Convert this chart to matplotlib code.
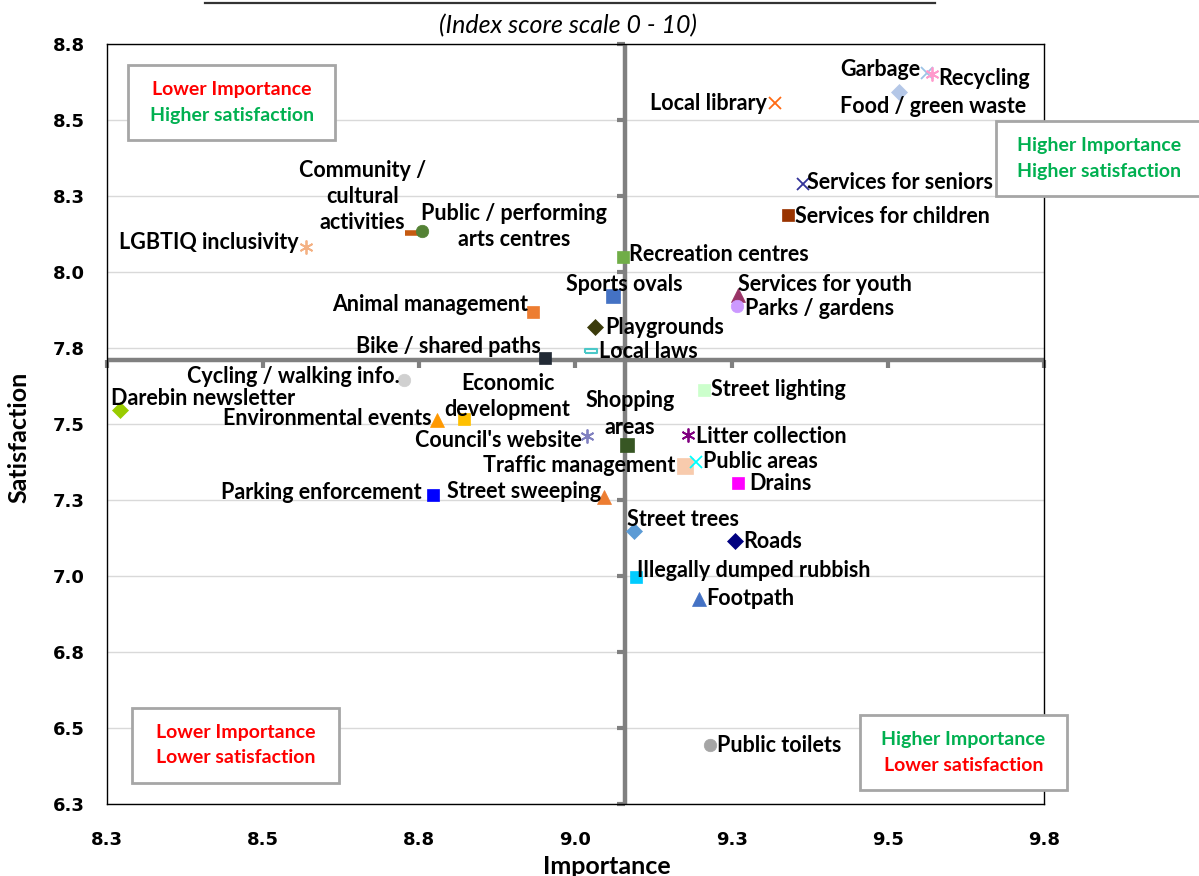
import matplotlib
matplotlib.use("Agg")
import matplotlib.pyplot as plt
import matplotlib.markers as mk
from matplotlib.path import Path
from matplotlib.patches import Rectangle
from matplotlib.lines import Line2D

plt.rcParams['font.family'] = ['Lato', 'DejaVu Sans']

# --- data ---
services = ["LGBTIQ inclusivity", "Community /\ncultural\nactivities", "Public / performing\narts centres",
            "Recreation centres", "Sports ovals", "Animal management", "Playgrounds", "Local laws",
            "Bike / shared paths", "Local library", "Garbage", "Recycling", "Food / green waste",
            "Services for seniors", "Services for children", "Services for youth", "Parks / gardens",
            "Cycling / walking info.", "Darebin newsletter", "Environmental events",
            "Economic\ndevelopment", "Council's website", "Shopping\nareas", "Parking enforcement",
            "Street sweeping", "Street lighting", "Litter collection", "Traffic management",
            "Public areas", "Drains", "Street trees", "Roads", "Illegally dumped rubbish",
            "Footpath", "Public toilets"]
importance = [8.568, 8.738, 8.755, 9.076, 9.060, 8.932, 9.032, 9.025, 8.952, 9.319, 9.562, 9.570,
              9.518, 9.365, 9.340, 9.260, 9.259, 8.726, 8.271, 8.778, 8.821, 9.018, 9.082, 8.772,
              9.045, 9.206, 9.180, 9.176, 9.193, 9.260, 9.094, 9.255, 9.097, 9.197, 9.215]
satisfaction = [8.084, 8.128, 8.137, 8.051, 7.922, 7.870, 7.819, 7.742, 7.717, 8.556, 8.655, 8.651,
                8.594, 8.290, 8.188, 7.925, 7.889, 7.646, 7.547, 7.514, 7.516, 7.461, 7.432, 7.267,
                7.262, 7.613, 7.465, 7.363, 7.377, 7.308, 7.149, 7.117, 6.997, 6.927, 6.445]
avg_importance = 9.08
avg_satisfaction = 7.71

xticks = [8.25, 8.5, 8.75, 9.0, 9.25, 9.5, 9.75]
xtick_labels = ["8.3", "8.5", "8.8", "9.0", "9.3", "9.5", "9.8"]
yticks = [6.25, 6.5, 6.75, 7.0, 7.25, 7.5, 7.75, 8.0, 8.25, 8.5, 8.75]
ytick_labels = ["6.3", "6.5", "6.8", "7.0", "7.3", "7.5", "7.8", "8.0", "8.3", "8.5", "8.8"]

# --- styles ---
bar = Path([(-1, -0.35), (1, -0.35), (1, 0.35), (-1, 0.35), (-1, -0.35)])
star = (6, 2, 0)
markers = [star, "_", "o", "s", "s", "s", "D", bar, "s", "x", "x", star, "D",
           "x", "s", "^", "o", "o", "D", "^", "s", star, "s", "s",
           "^", "s", star, "s", "x", "s", "D", "D", "s", "^", "o"]
colors = ["#F4B183", "#C55A11", "#548235", "#70AD47", "#4472C4", "#ED7D31", "#3B3B0B", "#4BC8C8",
          "#222A35", "#FF6A13", "#9DC3E6", "#FF99CC", "#B4C7E7", "#333399", "#993300", "#993366",
          "#CC99FF", "#D0D0D0", "#99CC00", "#FF9900", "#FFC000", "#8080C0", "#375623", "#0000FF",
          "#ED7D31", "#CCFFCC", "#800080", "#F8CBAD", "#00FFFF", "#FF00FF", "#5B9BD5", "#000080",
          "#00CCFF", "#4472C4", "#A5A5A5"]
sizes = [10, 10, 9, 8, 9.5, 8, 8, 9, 8, 9, 9, 10, 8.5, 9, 8.5, 9.5, 9, 9, 8, 9.5, 9, 10, 9.5, 8,
         9.5, 9, 10, 12, 9, 9, 8, 8, 9, 9.5, 9]
# label offsets in pixels (dx, dy up) and alignment
label_pos = [(-7, 4, "right"), (-49, 37, "center"), (92, 4, "center"), (6, 2, "left"),
             (11, 12, "center"), (-5, 7, "right"), (10, 0, "left"), (8, -1, "left"),
             (-5, 12, "right"), (-8, 0, "right"), (-6, 4, "right"), (7, -4, "left"),
             (34, -15, "center"), (4, 2, "left"), (7, -1, "left"), (0, 11, "left"),
             (8, -2, "left"), (-5, 3, "right"), (-9, 12, "left"), (-5, 2, "right"),
             (44, 23, "center"), (-5, -4, "right"), (3, 31, "center"), (-11, 3, "right"),
             (-2, 5, "right"), (7, 0, "left"), (8, -2, "left"), (-10, 0, "right"),
             (7, 0, "left"), (11, -1, "left"), (-7, 12, "left"), (8, -1, "left"),
             (1, 7, "left"), (8, 0, "left"), (7, 0, "left")]

fig = plt.figure(figsize=(11.99, 8.76), dpi=100)
ax = fig.add_axes([0.0892, 0.0818, 0.7815, 0.8676])
ax.set_xlim(8.25, 9.75)
ax.set_ylim(6.25, 8.75)

ax.set_yticks(yticks)
ax.set_yticklabels(ytick_labels)
ax.set_xticks(xticks)
ax.set_xticklabels(xtick_labels)
ax.tick_params(length=0)
for lab in ax.get_xticklabels() + ax.get_yticklabels():
    lab.set_fontfamily("DejaVu Sans")
    lab.set_fontweight("bold")
    lab.set_fontsize(13)
ax.tick_params(axis="x", pad=19)
ax.tick_params(axis="y", pad=16)
ax.grid(axis="y", color="#D9D9D9", linewidth=1)
ax.set_axisbelow(True)
for sp in ax.spines.values():
    sp.set_color("black")
    sp.set_linewidth(1)

# crossing axes at the averages
gray = "#808080"
ax.axhline(avg_satisfaction, color=gray, linewidth=3.2, zorder=2)
ax.axvline(avg_importance, color=gray, linewidth=3.2, zorder=2)
ax.plot(xticks, [avg_satisfaction] * len(xticks), ls="none", marker=mk.TICKDOWN,
        ms=6, mew=3, color=gray, zorder=2, clip_on=False)
ax.plot([avg_importance] * len(yticks), yticks, ls="none", marker=mk.TICKLEFT,
        ms=6, mew=3, color=gray, zorder=2, clip_on=False)

for i, name in enumerate(services):
    m = markers[i]
    filled = m not in ("x", "_", star)
    kw = dict(marker=m, ms=sizes[i], ls="none", zorder=4)
    if m is bar:
        kw.update(mfc="white", mec=colors[i], mew=1.5)
    elif filled:
        kw.update(mfc=colors[i], mec=colors[i], mew=0.5)
    else:
        kw.update(color=colors[i], mew=1.3 if m != "_" else 4)
    ax.plot(importance[i], satisfaction[i], **kw)
    dx, dy, ha = label_pos[i]
    ax.annotate(name, (importance[i], satisfaction[i]), xytext=(dx, dy),
                textcoords="offset pixels", ha=ha, va="center", fontsize=15.5,
                fontweight="bold", color="black", linespacing=1.3, zorder=5)

# quadrant boxes
boxes = [(0.133, 0.924, "Lower Importance", "#FF0000", "Higher satisfaction", "#00B050"),
         (1.059, 0.850, "Higher Importance", "#00B050", "Higher satisfaction", "#00B050"),
         (0.137, 0.078, "Lower Importance", "#FF0000", "Lower satisfaction", "#FF0000"),
         (0.914, 0.068, "Higher Importance", "#00B050", "Lower satisfaction", "#FF0000")]
bw, bh = 207 / 937, 75 / 760
for cx, cy, t1, c1, t2, c2 in boxes:
    ax.add_patch(Rectangle((cx - bw / 2, cy - bh / 2), bw, bh, transform=ax.transAxes,
                           facecolor="white", edgecolor="#A6A6A6", linewidth=2,
                           clip_on=False, zorder=6))
    ax.text(cx, cy + 0.017, t1, transform=ax.transAxes, ha="center", va="center",
            fontsize=14, fontweight="bold", color=c1, zorder=7, clip_on=False)
    ax.text(cx, cy - 0.017, t2, transform=ax.transAxes, ha="center", va="center",
            fontsize=14, fontweight="bold", color=c2, zorder=7, clip_on=False)

ax.set_xlabel("Importance", fontsize=18, fontweight="bold")
ax.set_ylabel("Satisfaction", fontsize=18, fontweight="bold")
ax.xaxis.set_label_coords(0.533, -0.066)
ax.yaxis.set_label_coords(-0.082, 0.483)

fig.text(0.474, 0.971, "(Index score scale 0 - 10)", ha="center", va="center",
         fontsize=18, fontstyle="italic")
fig.add_artist(Line2D([205 / 1199, 935 / 1199], [1 - 3 / 876, 1 - 3 / 876],
                      color="#333333", linewidth=1.6))

fig.savefig("out.png", dpi=100)
